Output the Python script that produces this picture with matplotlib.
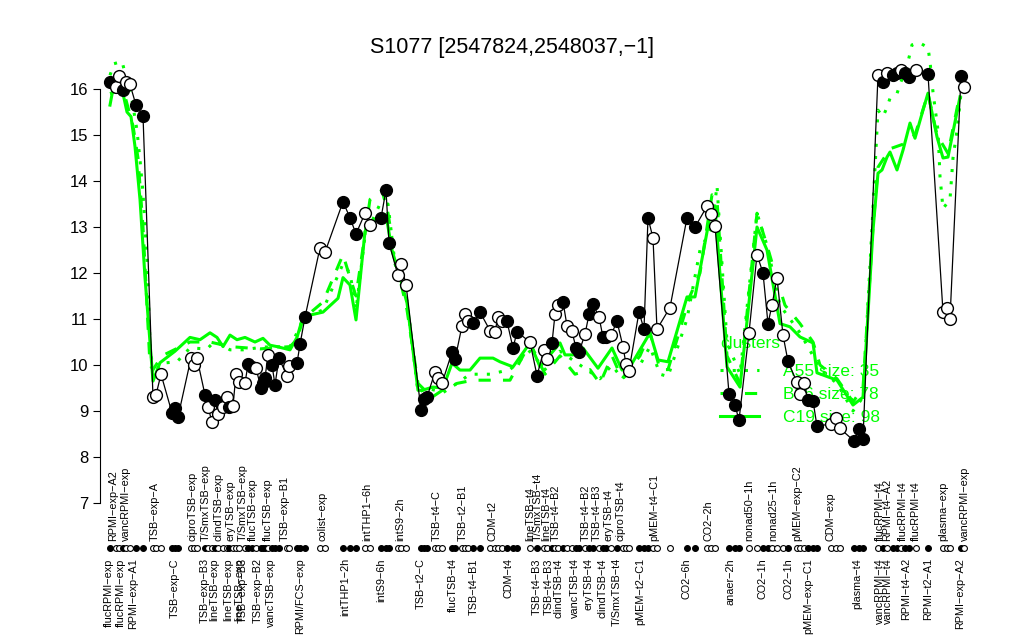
import matplotlib
matplotlib.use("Agg")
import matplotlib.pyplot as plt

plt.rcParams['font.family'] = ['Liberation Sans', 'DejaVu Sans']

# condition positions along the x axis, expression values and filled/open flag
pos = [110, 116, 119, 123, 126, 130, 136, 143, 153, 156, 161, 172, 175, 178,
       191, 194, 197, 205, 208, 212, 215, 218, 223, 227, 229, 233, 236, 239,
       245, 248, 252, 256, 261, 263, 265, 268, 272, 275, 279, 287, 289, 297,
       300, 305, 320, 325, 343, 350, 356, 365, 370, 381, 386, 389, 398, 401,
       406, 421, 424, 427, 435, 438, 442, 452, 455, 462, 465, 468, 473, 480,
       490, 495, 498, 502, 507, 513, 517, 530, 537, 544, 547, 552, 555, 558,
       563, 567, 572, 576, 579, 585, 589, 593, 599, 603, 606, 611, 617, 623,
       626, 629, 639, 644, 648, 653, 657, 670, 687, 695, 707, 711, 715, 729,
       735, 739, 749, 757, 763, 768, 772, 777, 783, 788, 797, 800, 804, 808,
       813, 817, 831, 836, 840, 854, 859, 863, 878, 883, 887, 893, 897, 901,
       905, 909, 916, 928, 943, 947, 950, 961, 964]
vals = [16.15, 16.05, 16.28, 15.97, 16.15, 16.1, 15.65, 15.42, 9.3, 9.35, 9.8,
        8.96, 9.07, 8.87, 10.15, 10.0, 10.15, 9.35, 9.09, 8.76, 9.24, 8.93,
        9.09, 9.3, 9.09, 9.11, 9.8, 9.63, 9.6, 10.02, 9.96, 9.93, 9.5, 9.61,
        9.72, 10.22, 10.0, 9.57, 10.15, 9.76, 9.98, 10.04, 10.45, 11.04, 12.55,
        12.45, 13.55, 13.2, 12.85, 13.3, 13.05, 13.2, 13.8, 12.65, 11.95, 12.2,
        11.75, 9.02, 9.27, 9.3, 9.85, 9.72, 9.6, 10.28, 10.12, 10.85, 11.1,
        10.95, 10.92, 11.15, 10.75, 10.72, 11.05, 10.95, 10.95, 10.37, 10.72,
        10.5, 9.77, 10.33, 10.12, 10.48, 11.1, 11.3, 11.38, 10.85, 10.73, 10.37,
        10.28, 10.67, 11.1, 11.32, 11.05, 10.6, 10.6, 10.65, 10.95, 10.4, 10.02,
        9.88, 11.15, 10.78, 13.2, 12.76, 10.78, 11.25, 13.2, 13.0, 13.45, 13.28,
        13.03, 9.38, 9.13, 8.8, 10.7, 12.4, 12.0, 10.9, 11.3, 11.9, 10.65,
        10.08, 9.62, 9.38, 9.6, 9.25, 9.22, 8.67, 8.72, 8.85, 8.62, 8.35, 8.6,
        8.4, 16.3, 16.15, 16.35, 16.3, 16.35, 16.42, 16.35, 16.27, 16.42, 16.32,
        11.15, 11.25, 11.0, 16.28, 16.05]
filled = [1, 0, 0, 1, 0, 0, 1, 1, 0, 0, 0, 1, 1, 1, 0, 0, 0, 1, 0, 0, 1, 0, 0,
          0, 1, 0, 0, 0, 0, 1, 1, 0, 1, 1, 1, 0, 1, 1, 1, 0, 0, 1, 1, 1, 0, 0,
          1, 1, 1, 0, 0, 1, 1, 1, 0, 0, 0, 1, 1, 1, 0, 0, 0, 1, 1, 0, 0, 0, 1,
          1, 0, 0, 0, 0, 1, 1, 1, 0, 1, 0, 0, 1, 0, 0, 1, 0, 0, 1, 1, 0, 1, 1,
          0, 1, 1, 0, 1, 0, 0, 0, 1, 1, 1, 0, 0, 0, 1, 1, 0, 0, 0, 1, 1, 1, 0,
          0, 1, 1, 0, 0, 0, 1, 0, 0, 0, 1, 1, 1, 0, 0, 0, 1, 1, 1, 0, 1, 0, 1,
          1, 0, 1, 1, 0, 1, 0, 0, 0, 1, 0]

# cluster mean profiles
c19_x = [110, 113, 123, 127, 131, 135, 140, 145, 153, 160, 175, 190, 200, 210,
         217, 223, 230, 237, 245, 255, 263, 270, 277, 290, 297, 303, 323, 338,
         343, 350, 356, 365, 377, 386, 392, 400, 407, 418, 422, 433, 443, 452,
         460, 470, 480, 493, 500, 513, 530, 540, 560, 565, 573, 583, 598, 612,
         622, 630, 640, 650, 658, 668, 687, 695, 712, 715, 727, 740, 757, 767,
         780, 790, 800, 813, 817, 837, 853, 863, 873, 878, 882, 887, 890, 897,
         903, 910, 915, 923, 928, 937, 943, 948, 960]
c19_y = [15.65, 16.0, 15.9, 15.5, 15.4, 14.75, 13.6, 11.9, 9.65, 10.05, 10.3,
         10.6, 10.55, 10.7, 10.6, 10.4, 10.65, 10.55, 10.6, 10.5, 10.58, 10.43,
         10.4, 10.33, 10.6, 11.05, 11.15, 11.45, 11.9, 11.74, 10.98, 12.9, 13.2,
         13.26, 12.5, 11.9, 11.35, 9.45, 9.45, 9.52, 9.5, 10.04, 9.89, 9.89,
         10.15, 10.15, 10.07, 9.96, 10.48, 9.96, 10.48, 10.22, 10.22, 10.37,
         9.93, 10.37, 9.89, 9.96, 10.33, 10.7, 10.11, 10.07, 11.48, 11.48, 13.48,
         13.41, 9.96, 9.52, 13.0, 12.5, 10.9, 10.83, 10.61, 10.48, 9.83, 9.67,
         9.13, 9.3, 12.93, 14.17, 14.24, 14.52, 14.63, 14.24, 14.67, 15.26,
         14.93, 15.54, 15.91, 14.96, 14.5, 14.52, 15.83]
b86_x = [110, 123, 128, 133, 138, 143, 150, 153, 162, 190, 210, 230, 260, 290,
         297, 303, 323, 343, 350, 356, 370, 382, 388, 395, 407, 418, 432, 443,
         457, 473, 510, 530, 545, 560, 575, 590, 600, 612, 622, 640, 650, 660,
         668, 690, 700, 712, 717, 727, 740, 757, 767, 775, 785, 800, 813, 820,
         837, 853, 863, 873, 878, 890, 903, 915, 928, 937, 948, 960]
b86_y = [15.9, 16.0, 15.6, 15.2, 14.5, 13.0, 10.0, 9.9, 10.2, 10.5, 10.5, 10.4,
         10.35, 10.4, 10.55, 11.0, 11.37, 12.4, 11.9, 11.5, 13.6, 13.8, 13.3,
         12.35, 11.2, 9.6, 9.3, 9.46, 9.6, 9.67, 9.67, 10.48, 9.8, 10.2, 9.8,
         9.9, 9.6, 10.2, 9.7, 10.2, 10.7, 9.9, 9.9, 11.5, 12.0, 13.7, 13.6,
         10.2, 9.6, 13.3, 12.6, 12.0, 11.3, 10.9, 10.5, 10.0, 9.7, 9.2, 9.5,
         13.0, 14.3, 14.7, 14.8, 15.0, 15.9, 15.0, 14.6, 15.9]
a55_x = [110, 114, 122, 125, 132, 137, 140, 143, 147, 150, 153, 162, 177, 190,
         207, 215, 230, 243, 263, 290, 297, 303, 323, 343, 350, 356, 365, 380,
         388, 395, 407, 418, 427, 443, 457, 470, 490, 510, 530, 545, 560, 580,
         600, 612, 622, 640, 650, 660, 668, 687, 700, 712, 717, 727, 740, 757,
         767, 780, 790, 800, 813, 820, 837, 853, 863, 872, 878, 883, 887, 890,
         897, 900, 907, 912, 920, 928, 930, 933, 938, 940, 943, 950, 953, 957,
         963]
a55_y = [16.3, 16.55, 16.6, 16.35, 15.76, 15.1, 14.46, 13.74, 12.28, 10.5, 9.8,
         10.04, 10.07, 10.37, 10.35, 10.52, 10.33, 10.33, 10.39, 10.4, 10.7,
         11.0, 11.2, 12.2, 12.0, 11.2, 12.8, 13.5, 13.5, 12.2, 11.4, 9.4, 9.5,
         9.4, 9.6, 9.8, 9.8, 9.9, 10.3, 9.9, 10.3, 10.0, 9.7, 10.0, 9.7, 10.0,
         10.4, 9.8, 9.75, 11.0, 12.5, 13.0, 13.9, 10.5, 9.8, 13.3, 12.6, 11.3,
         11.0, 10.7, 10.2, 9.9, 9.6, 9.0, 9.3, 13.0, 15.54, 15.4, 15.6, 15.8,
         15.9, 16.1, 16.5, 16.96, 17.0, 16.9, 16.6, 15.93, 15.1, 14.1, 13.4,
         13.6, 14.5, 15.1, 16.3]

top_pos = [113, 126, 155, 193, 206, 218, 231, 243, 253, 268, 285, 322, 367,
           400, 437, 463, 492, 530, 538, 546, 556, 586, 597, 609, 620, 654,
           708, 749, 773, 797, 830, 880, 887, 903, 916, 943, 965]
top_text = ['RPMI-exp-A2', 'vancRPMI-exp', 'TSB-exp-A', 'ciproTSB-exp',
            'T/SmxTSB-exp', 'clindTSB-exp', 'eryTSB-exp', 'T/SmxTSB-exp',
            'flucTSB-exp', 'flucTSB-exp', 'TSB-exp-B1', 'colist-exp',
            'intTHP1-6h', 'intS9-2h', 'TSB-t4-C', 'TSB-t2-B1', 'CDM-t2',
            'lineTSB-t4', 'T/SmxTSB-t4', 'lineTSB-t4', 'TSB-t4-B2', 'TSB-t4-B2',
            'TSB-t4-B3', 'eryTSB-t4', 'ciproTSB-t4', 'pMEM-t4-C1', 'CO2-2h',
            'nonad50-1h', 'nonad25-1h', 'pMEM-exp-C2', 'CDM-exp', 'flucRPMI-t4',
            'RPMI-t4-A2', 'flucRPMI-t4', 'flucRPMI-t4', 'plasma-exp',
            'vancRPMI-exp']
bot_pos = [109, 121, 133, 175, 205, 214, 228, 239, 243, 258, 271, 300, 345,
           381, 421, 453, 474, 509, 537, 549, 558, 575, 589, 602, 617, 640,
           687, 731, 763, 788, 808, 857, 880, 888, 906, 928, 960]
bot_text = ['flucRPMI-exp', 'flucRPMI-exp', 'RPMI-exp-A1', 'TSB-exp-C',
            'TSB-exp-B3', 'lineTSB-exp', 'lineTSB-exp', 'lineTSB-exp',
            'TSB-exp-B3', 'TSB-exp-B2', 'vancTSB-exp', 'RPMI/FCS-exp',
            'intTHP1-2h', 'intS9-6h', 'TSB-t2-C', 'flucTSB-t4', 'TSB-t4-B1',
            'CDM-t4', 'TSB-t4-B3', 'TSB-t4-B3', 'clindTSB-t4', 'vancTSB-t4',
            'eryTSB-t4', 'clindTSB-t4', 'T/SmxTSB-t4', 'pMEM-t2-C1', 'CO2-6h',
            'anaer-2h', 'CO2-1h', 'CO2-1h', 'pMEM-exp-C1', 'plasma-t4',
            'vancRPMI-t4', 'vancRPMI-t4', 'RPMI-t4-A2', 'RPMI-t2-A1',
            'RPMI-exp-A2']

green = '#00ff00'

fig = plt.figure(figsize=(10.24, 6.4), dpi=100)
ax = fig.add_axes([100 / 1024, 80 / 640, 875 / 1024, 522 / 640])
ax.set_xlim(100, 975)
ax.set_ylim(5.761, 17.109)

l1, = ax.plot(a55_x, a55_y, color=green, lw=2.2, ls=(0, (1, 3)), zorder=2)
l2, = ax.plot(b86_x, b86_y, color=green, lw=2.2, ls=(0, (4, 4)), zorder=2)
l3, = ax.plot(c19_x, c19_y, color=green, lw=2.2, zorder=2)

leg = ax.legend([l1, l2, l3], ['A55 size: 35', 'B86 size: 78', 'C19 size: 98'],
                title='clusters', loc='upper left',
                bbox_to_anchor=(620 / 875, (560 - 336) / 522), frameon=False,
                fontsize=12.5, title_fontsize=12.5, labelcolor=green,
                handlelength=2.25, handletextpad=1.4, labelspacing=0.45,
                alignment='left', borderaxespad=0, borderpad=0)
leg.get_title().set_color(green)
leg._legend_box.sep = 9
leg.set_zorder(3)

ax.plot(pos, vals, color='black', lw=0.9, zorder=4)
for x, v, f in zip(pos, vals, filled):
    ax.plot(x, v, 'o', ms=8.5, mec='black', mew=1,
            mfc='black' if f else 'white', zorder=5)
    ax.plot(x, 6.02, 'o', ms=4.2, mec='black', mew=0.8,
            mfc='black' if f else 'white', zorder=5)

for x, t in zip(top_pos, top_text):
    ax.text(x, 6.17, t.replace('-', '\u2212'), rotation=90, ha='center',
            va='bottom', fontsize=7.8)
for x, t in zip(bot_pos, bot_text):
    ax.text(x, 5.8, t.replace('-', '\u2212'), rotation=90, ha='center',
            va='top', fontsize=7.8)

for s in ['top', 'right', 'bottom']:
    ax.spines[s].set_visible(False)
ax.spines['left'].set_bounds(7, 16)
ax.set_yticks(range(7, 17))
ax.tick_params(axis='y', labelsize=12, length=5)
ax.set_xticks([])

fig.text(0.5, 1 - 47 / 640, 'S1077 [2547824,2548037,\u22121]', ha='center',
         va='center', fontsize=15.5)

fig.savefig('out.png', dpi=100)
